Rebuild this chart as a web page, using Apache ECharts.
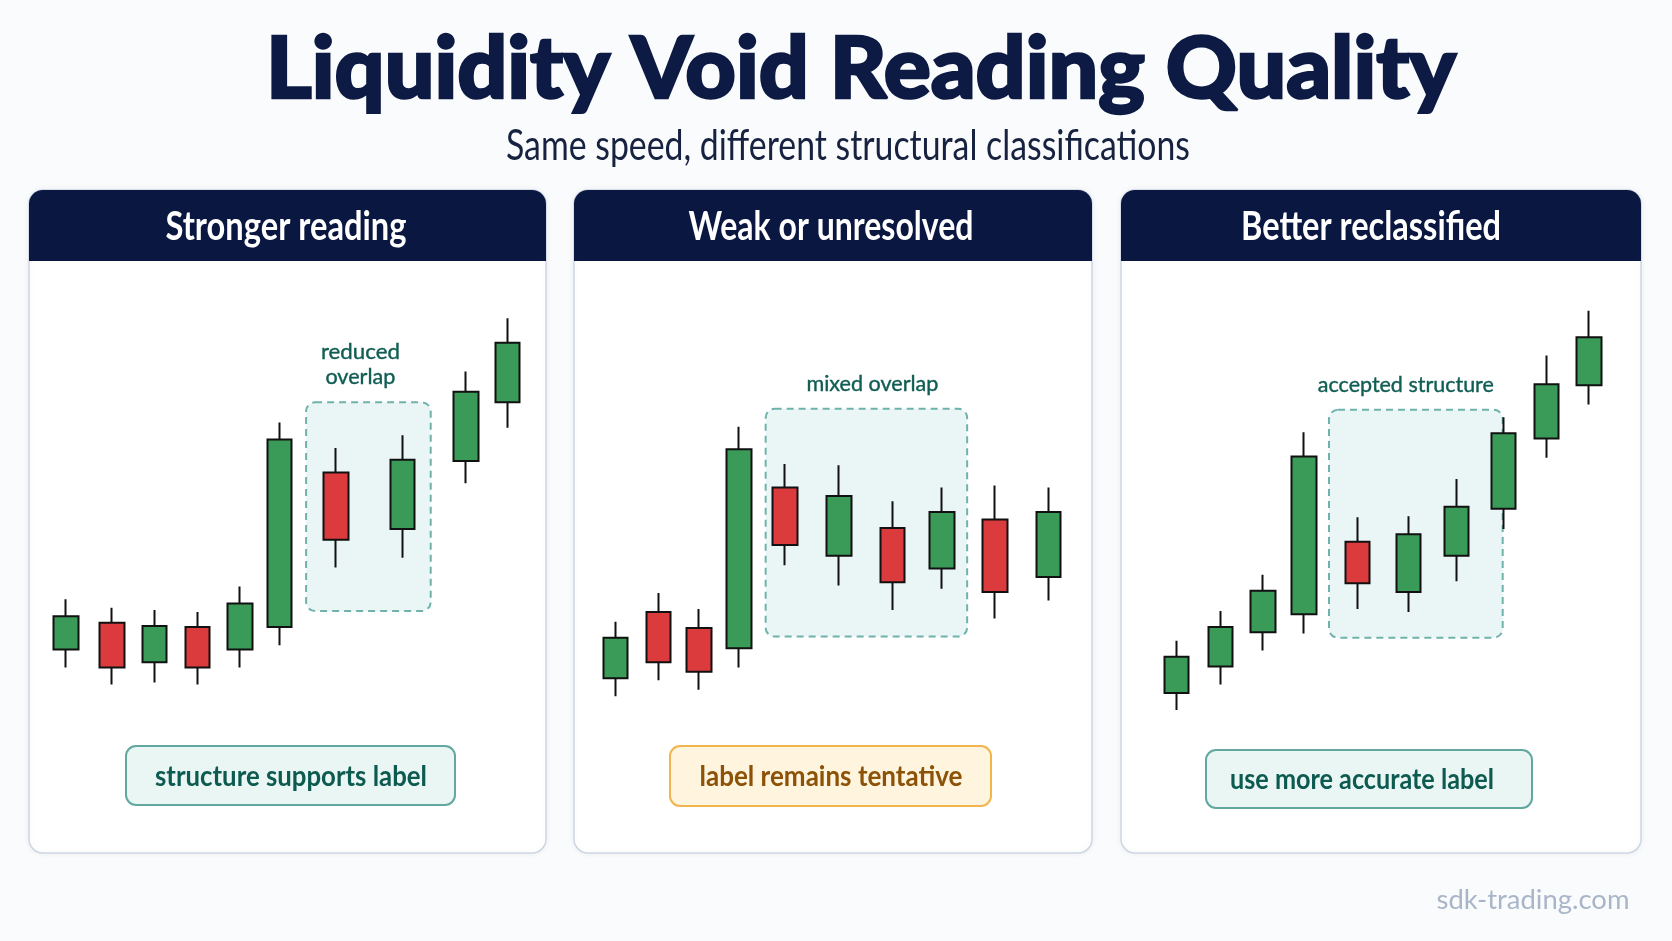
<!DOCTYPE html>
<html>
<head>
<meta charset="utf-8">
<title>Liquidity Void Reading Quality</title>
<script src="https://cdn.jsdelivr.net/npm/echarts@6/dist/echarts.min.js"></script>
<style>
  html, body { margin: 0; padding: 0; background: #fafbfc; }
  #chart { width: 1672px; height: 941px; }
</style>
</head>
<body>
<div id="chart"></div>
<script>
// time position of each candle inside its panel (0..100) and [open, close, low, high]
const strongX = [7.2, 16.1, 24.3, 32.6, 40.8, 48.5, 59.4, 72.2, 84.5, 92.6]
const strongOhlc = [
  [17.75, 25.5, 13.5, 29.5], [24, 13.5, 9.5, 27.5], [14.75, 23.25, 10, 27],
  [23, 13.5, 9.5, 26.5], [17.75, 28.5, 13.5, 32.5], [23, 67, 18.75, 71],
  [59.25, 43.5, 37, 65], [46, 62.25, 39.25, 68], [62, 78.25, 56.75, 83],
  [75.75, 89.75, 69.75, 95.5]
]
const weakX = [8.0, 16.3, 24.1, 31.9, 40.7, 51.2, 61.5, 71.0, 81.3, 91.6]
const weakOhlc = [
  [11, 20.5, 6.75, 24.25], [26.5, 14.75, 10.5, 31], [22.75, 12.5, 8.25, 27.25],
  [18, 64.75, 13.5, 70], [55.75, 42.25, 37.5, 61.25], [39.75, 53.75, 32.75, 61],
  [46.25, 33.5, 27, 52.5], [36.75, 50, 32, 55.75], [48.25, 31.25, 25, 56.25],
  [34.75, 50, 29.25, 55.75]
]
const betterX = [10.7, 19.1, 27.3, 35.2, 45.5, 55.3, 64.5, 73.6, 81.8, 90.0]
const betterOhlc = [
  [7.5, 16, 3.5, 19.75], [13.75, 23, 9.5, 26.75], [21.75, 31.5, 17.5, 35.25],
  [26, 63, 21.5, 68.75], [43, 33.25, 27.25, 48.75], [31.25, 44.75, 26.5, 49],
  [39.75, 51.25, 33.75, 57.75], [50.75, 68.5, 46, 72.25], [67.25, 80, 62.75, 86.75],
  [79.75, 91, 75.25, 97.25]
]
// overlap zones: [xStart, xEnd, top, bottom]
const zones = [[53.6, 77.7, 75.75, 26.75], [37.0, 75.9, 74.25, 20.75], [40.0, 73.4, 74, 20.5]]
const zoneLabels = [['reduced', 'overlap'], ['mixed overlap'], ['accepted structure']]
const headers = ['Stronger reading', 'Weak or unresolved', 'Better reclassified']
const verdicts = ['structure supports label', 'label remains tentative', 'use more accurate label']

const panels = [
  { left: 29, width: 517, headX: 286, headW: 241, box: [126, 746, 329, 59], textX: 291, textW: 272, tone: 'teal', zoneW: [79, 70], zoneDx: -8 },
  { left: 574, width: 518, headX: 831, headW: 285, box: [670, 746, 321, 60], textX: 831, textW: 263, tone: 'amber', zoneW: [132], zoneDx: 6 },
  { left: 1121, width: 520, headX: 1371, headW: 260, box: [1206, 750, 326, 58], textX: 1362, textW: 264, tone: 'teal', zoneW: [176], zoneDx: -10 }
]
const tones = {
  teal: { fill: '#eaf6f4', stroke: '#62a8a0', text: '#0d5a50' },
  amber: { fill: '#fff5de', stroke: '#f0b54c', text: '#8c5207' }
}

const measureCtx = document.createElement('canvas').getContext('2d')
function label (text, x, y, size, weight, color, targetW, thicken) {
  const font = weight + ' ' + size + 'px Lato'
  measureCtx.font = font
  const sx = targetW ? targetW / measureCtx.measureText(text).width : 1
  const style = { text: text, font: font, fill: color, textAlign: 'center', textVerticalAlign: 'middle' }
  if (thicken) {
    style.stroke = color
    style.lineWidth = thicken
  }
  return { type: 'text', x: x, y: y, scaleX: sx, z: 10, style: style }
}

const chart = echarts.init(document.getElementById('chart'))
const sets = [[strongX, strongOhlc], [weakX, weakOhlc], [betterX, betterOhlc]]

chart.setOption({
  backgroundColor: '#fafbfc',
  animation: false,
  grid: panels.map(p => ({ left: p.left, width: p.width, top: 299, height: 426 })),
  xAxis: panels.map((p, i) => ({ type: 'value', gridIndex: i, min: 0, max: 100, show: false })),
  yAxis: panels.map((p, i) => ({ type: 'value', gridIndex: i, min: 0, max: 100, show: false })),
  series: sets.map((s, i) => ({
    type: 'candlestick',
    xAxisIndex: i,
    yAxisIndex: i,
    barWidth: 25,
    z: 5,
    itemStyle: {
      color: '#3a9a57',
      color0: '#dc3b3e',
      borderColor: '#111111',
      borderColor0: '#111111',
      borderWidth: 2
    },
    data: s[0].map((x, k) => [x].concat(s[1][k]))
  }))
})

const graphics = []
// page title
graphics.push(label('Liquidity Void Reading Quality', 861, 70, 86, '900', '#0c1a44', 1190, 2.5))
graphics.push(label('Same speed, different structural classifications', 848, 146, 42, 'normal', '#16223f', 684))

panels.forEach((p, i) => {
  graphics.push({
    type: 'rect', z: 0,
    shape: { x: p.left, y: 190, width: p.width, height: 663, r: 14 },
    style: { fill: '#ffffff', stroke: '#cdd6e3', lineWidth: 1.5, shadowBlur: 6, shadowColor: 'rgba(20,40,80,0.06)' }
  })
  graphics.push({
    type: 'rect', z: 1,
    shape: { x: p.left, y: 190, width: p.width, height: 71, r: [14, 14, 0, 0] },
    style: { fill: '#0a1740' }
  })
  graphics.push(label(headers[i], p.headX, 227, 40, 'bold', '#ffffff', p.headW))

  // dashed overlap zone, placed through the grid's own scales
  const z = zones[i]
  const a = chart.convertToPixel({ gridIndex: i }, [z[0], z[2]])
  const b = chart.convertToPixel({ gridIndex: i }, [z[1], z[3]])
  graphics.push({
    type: 'rect', z: 1,
    shape: { x: a[0], y: a[1], width: b[0] - a[0], height: b[1] - a[1], r: 9 },
    style: { fill: '#eaf6f6', stroke: '#6fb2ab', lineWidth: 2, lineDash: [7, 5] }
  })
  const cx = (a[0] + b[0]) / 2 + p.zoneDx
  const lines = zoneLabels[i]
  lines.forEach((t, k) => {
    const y = a[1] - 25 - (lines.length - 1 - k) * 25
    graphics.push(label(t, cx, y, 22, 'normal', '#0f5d53', p.zoneW[k], 0.4))
  })

  // verdict box
  const tone = tones[p.tone]
  graphics.push({
    type: 'rect', z: 1,
    shape: { x: p.box[0], y: p.box[1], width: p.box[2], height: p.box[3], r: 10 },
    style: { fill: tone.fill, stroke: tone.stroke, lineWidth: 2 }
  })
  graphics.push(label(verdicts[i], p.textX, p.box[1] + p.box[3] / 2 + 1, 28, 'bold', tone.text, p.textW))
})

graphics.push(label('sdk-trading.com', 1533, 901, 26, 'normal', '#a9b6c9', 193))

chart.setOption({ graphic: { elements: graphics } })
</script>
</body>
</html>
